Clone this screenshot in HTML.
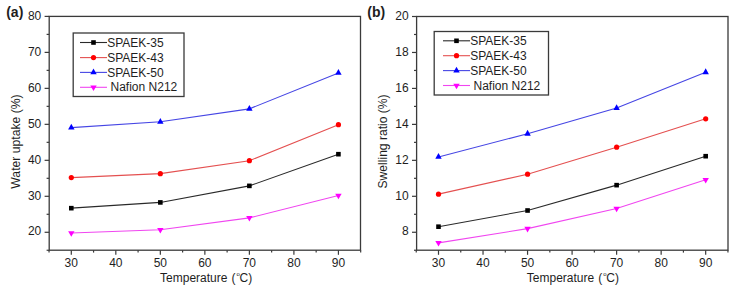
<!DOCTYPE html>
<html><head><meta charset="utf-8"><style>
html,body{margin:0;padding:0;background:#fff;}
body{width:734px;height:290px;overflow:hidden;}
svg{display:block;}
text{font-family:"Liberation Sans", sans-serif;fill:#1e1e1e;}
</style></head><body>
<svg width="734" height="290" viewBox="0 0 734 290">
<rect width="734" height="290" fill="#fff"/>
<line x1="44.60" y1="232.28" x2="49.20" y2="232.28" stroke="#3a3a3a" stroke-width="1.2"/>
<line x1="44.60" y1="196.30" x2="49.20" y2="196.30" stroke="#3a3a3a" stroke-width="1.2"/>
<line x1="44.60" y1="160.32" x2="49.20" y2="160.32" stroke="#3a3a3a" stroke-width="1.2"/>
<line x1="44.60" y1="124.34" x2="49.20" y2="124.34" stroke="#3a3a3a" stroke-width="1.2"/>
<line x1="44.60" y1="88.36" x2="49.20" y2="88.36" stroke="#3a3a3a" stroke-width="1.2"/>
<line x1="44.60" y1="52.38" x2="49.20" y2="52.38" stroke="#3a3a3a" stroke-width="1.2"/>
<line x1="44.60" y1="16.40" x2="49.20" y2="16.40" stroke="#3a3a3a" stroke-width="1.2"/>
<line x1="46.60" y1="250.27" x2="49.20" y2="250.27" stroke="#3a3a3a" stroke-width="1.2"/>
<line x1="46.60" y1="214.29" x2="49.20" y2="214.29" stroke="#3a3a3a" stroke-width="1.2"/>
<line x1="46.60" y1="178.31" x2="49.20" y2="178.31" stroke="#3a3a3a" stroke-width="1.2"/>
<line x1="46.60" y1="142.33" x2="49.20" y2="142.33" stroke="#3a3a3a" stroke-width="1.2"/>
<line x1="46.60" y1="106.35" x2="49.20" y2="106.35" stroke="#3a3a3a" stroke-width="1.2"/>
<line x1="46.60" y1="70.37" x2="49.20" y2="70.37" stroke="#3a3a3a" stroke-width="1.2"/>
<line x1="46.60" y1="34.39" x2="49.20" y2="34.39" stroke="#3a3a3a" stroke-width="1.2"/>
<line x1="71.30" y1="250.20" x2="71.30" y2="254.80" stroke="#3a3a3a" stroke-width="1.2"/>
<line x1="115.82" y1="250.20" x2="115.82" y2="254.80" stroke="#3a3a3a" stroke-width="1.2"/>
<line x1="160.34" y1="250.20" x2="160.34" y2="254.80" stroke="#3a3a3a" stroke-width="1.2"/>
<line x1="204.86" y1="250.20" x2="204.86" y2="254.80" stroke="#3a3a3a" stroke-width="1.2"/>
<line x1="249.38" y1="250.20" x2="249.38" y2="254.80" stroke="#3a3a3a" stroke-width="1.2"/>
<line x1="293.90" y1="250.20" x2="293.90" y2="254.80" stroke="#3a3a3a" stroke-width="1.2"/>
<line x1="338.42" y1="250.20" x2="338.42" y2="254.80" stroke="#3a3a3a" stroke-width="1.2"/>
<line x1="49.04" y1="250.20" x2="49.04" y2="252.60" stroke="#3a3a3a" stroke-width="1.2"/>
<line x1="93.56" y1="250.20" x2="93.56" y2="252.60" stroke="#3a3a3a" stroke-width="1.2"/>
<line x1="138.08" y1="250.20" x2="138.08" y2="252.60" stroke="#3a3a3a" stroke-width="1.2"/>
<line x1="182.60" y1="250.20" x2="182.60" y2="252.60" stroke="#3a3a3a" stroke-width="1.2"/>
<line x1="227.12" y1="250.20" x2="227.12" y2="252.60" stroke="#3a3a3a" stroke-width="1.2"/>
<line x1="271.64" y1="250.20" x2="271.64" y2="252.60" stroke="#3a3a3a" stroke-width="1.2"/>
<line x1="316.16" y1="250.20" x2="316.16" y2="252.60" stroke="#3a3a3a" stroke-width="1.2"/>
<line x1="360.68" y1="250.20" x2="360.68" y2="252.60" stroke="#3a3a3a" stroke-width="1.2"/>
<rect x="49.20" y="16.40" width="311.30" height="233.80" fill="none" stroke="#3a3a3a" stroke-width="1.3"/>
<text x="41.30" y="235.48" text-anchor="end" font-size="12">20</text>
<text x="41.30" y="199.50" text-anchor="end" font-size="12">30</text>
<text x="41.30" y="163.52" text-anchor="end" font-size="12">40</text>
<text x="41.30" y="127.54" text-anchor="end" font-size="12">50</text>
<text x="41.30" y="91.56" text-anchor="end" font-size="12">60</text>
<text x="41.30" y="55.58" text-anchor="end" font-size="12">70</text>
<text x="41.30" y="19.60" text-anchor="end" font-size="12">80</text>
<text x="71.30" y="267.2" text-anchor="middle" font-size="12">30</text>
<text x="115.82" y="267.2" text-anchor="middle" font-size="12">40</text>
<text x="160.34" y="267.2" text-anchor="middle" font-size="12">50</text>
<text x="204.86" y="267.2" text-anchor="middle" font-size="12">60</text>
<text x="249.38" y="267.2" text-anchor="middle" font-size="12">70</text>
<text x="293.90" y="267.2" text-anchor="middle" font-size="12">80</text>
<text x="338.42" y="267.2" text-anchor="middle" font-size="12">90</text>
<line x1="412.00" y1="232.26" x2="416.60" y2="232.26" stroke="#3a3a3a" stroke-width="1.2"/>
<line x1="412.00" y1="196.30" x2="416.60" y2="196.30" stroke="#3a3a3a" stroke-width="1.2"/>
<line x1="412.00" y1="160.34" x2="416.60" y2="160.34" stroke="#3a3a3a" stroke-width="1.2"/>
<line x1="412.00" y1="124.38" x2="416.60" y2="124.38" stroke="#3a3a3a" stroke-width="1.2"/>
<line x1="412.00" y1="88.42" x2="416.60" y2="88.42" stroke="#3a3a3a" stroke-width="1.2"/>
<line x1="412.00" y1="52.46" x2="416.60" y2="52.46" stroke="#3a3a3a" stroke-width="1.2"/>
<line x1="412.00" y1="16.50" x2="416.60" y2="16.50" stroke="#3a3a3a" stroke-width="1.2"/>
<line x1="414.00" y1="250.24" x2="416.60" y2="250.24" stroke="#3a3a3a" stroke-width="1.2"/>
<line x1="414.00" y1="214.28" x2="416.60" y2="214.28" stroke="#3a3a3a" stroke-width="1.2"/>
<line x1="414.00" y1="178.32" x2="416.60" y2="178.32" stroke="#3a3a3a" stroke-width="1.2"/>
<line x1="414.00" y1="142.36" x2="416.60" y2="142.36" stroke="#3a3a3a" stroke-width="1.2"/>
<line x1="414.00" y1="106.40" x2="416.60" y2="106.40" stroke="#3a3a3a" stroke-width="1.2"/>
<line x1="414.00" y1="70.44" x2="416.60" y2="70.44" stroke="#3a3a3a" stroke-width="1.2"/>
<line x1="414.00" y1="34.48" x2="416.60" y2="34.48" stroke="#3a3a3a" stroke-width="1.2"/>
<line x1="438.50" y1="250.20" x2="438.50" y2="254.80" stroke="#3a3a3a" stroke-width="1.2"/>
<line x1="483.03" y1="250.20" x2="483.03" y2="254.80" stroke="#3a3a3a" stroke-width="1.2"/>
<line x1="527.56" y1="250.20" x2="527.56" y2="254.80" stroke="#3a3a3a" stroke-width="1.2"/>
<line x1="572.09" y1="250.20" x2="572.09" y2="254.80" stroke="#3a3a3a" stroke-width="1.2"/>
<line x1="616.62" y1="250.20" x2="616.62" y2="254.80" stroke="#3a3a3a" stroke-width="1.2"/>
<line x1="661.15" y1="250.20" x2="661.15" y2="254.80" stroke="#3a3a3a" stroke-width="1.2"/>
<line x1="705.68" y1="250.20" x2="705.68" y2="254.80" stroke="#3a3a3a" stroke-width="1.2"/>
<line x1="416.24" y1="250.20" x2="416.24" y2="252.60" stroke="#3a3a3a" stroke-width="1.2"/>
<line x1="460.76" y1="250.20" x2="460.76" y2="252.60" stroke="#3a3a3a" stroke-width="1.2"/>
<line x1="505.30" y1="250.20" x2="505.30" y2="252.60" stroke="#3a3a3a" stroke-width="1.2"/>
<line x1="549.83" y1="250.20" x2="549.83" y2="252.60" stroke="#3a3a3a" stroke-width="1.2"/>
<line x1="594.36" y1="250.20" x2="594.36" y2="252.60" stroke="#3a3a3a" stroke-width="1.2"/>
<line x1="638.88" y1="250.20" x2="638.88" y2="252.60" stroke="#3a3a3a" stroke-width="1.2"/>
<line x1="683.41" y1="250.20" x2="683.41" y2="252.60" stroke="#3a3a3a" stroke-width="1.2"/>
<line x1="727.94" y1="250.20" x2="727.94" y2="252.60" stroke="#3a3a3a" stroke-width="1.2"/>
<rect x="416.60" y="16.50" width="311.40" height="233.70" fill="none" stroke="#3a3a3a" stroke-width="1.3"/>
<text x="408.70" y="235.46" text-anchor="end" font-size="12">8</text>
<text x="408.70" y="199.50" text-anchor="end" font-size="12">10</text>
<text x="408.70" y="163.54" text-anchor="end" font-size="12">12</text>
<text x="408.70" y="127.58" text-anchor="end" font-size="12">14</text>
<text x="408.70" y="91.62" text-anchor="end" font-size="12">16</text>
<text x="408.70" y="55.66" text-anchor="end" font-size="12">18</text>
<text x="408.70" y="19.70" text-anchor="end" font-size="12">20</text>
<text x="438.50" y="267.2" text-anchor="middle" font-size="12">30</text>
<text x="483.03" y="267.2" text-anchor="middle" font-size="12">40</text>
<text x="527.56" y="267.2" text-anchor="middle" font-size="12">50</text>
<text x="572.09" y="267.2" text-anchor="middle" font-size="12">60</text>
<text x="616.62" y="267.2" text-anchor="middle" font-size="12">70</text>
<text x="661.15" y="267.2" text-anchor="middle" font-size="12">80</text>
<text x="705.68" y="267.2" text-anchor="middle" font-size="12">90</text>
<polyline points="71.30,208.17 160.34,202.42 249.38,185.87 338.42,154.20" fill="none" stroke="#2a2a2a" stroke-width="1.1"/>
<rect x="69.00" y="205.87" width="4.60" height="4.60" fill="#000000"/>
<rect x="158.04" y="200.12" width="4.60" height="4.60" fill="#000000"/>
<rect x="247.08" y="183.57" width="4.60" height="4.60" fill="#000000"/>
<rect x="336.12" y="151.90" width="4.60" height="4.60" fill="#000000"/>
<polyline points="438.50,226.69 527.56,210.50 616.62,185.15 705.68,156.20" fill="none" stroke="#2a2a2a" stroke-width="1.1"/>
<rect x="436.20" y="224.39" width="4.60" height="4.60" fill="#000000"/>
<rect x="525.26" y="208.20" width="4.60" height="4.60" fill="#000000"/>
<rect x="614.32" y="182.85" width="4.60" height="4.60" fill="#000000"/>
<rect x="703.38" y="153.90" width="4.60" height="4.60" fill="#000000"/>
<polyline points="71.30,177.59 160.34,173.63 249.38,160.68 338.42,124.70" fill="none" stroke="#e45050" stroke-width="1.1"/>
<circle cx="71.30" cy="177.59" r="2.6" fill="#ff0000"/>
<circle cx="160.34" cy="173.63" r="2.6" fill="#ff0000"/>
<circle cx="249.38" cy="160.68" r="2.6" fill="#ff0000"/>
<circle cx="338.42" cy="124.70" r="2.6" fill="#ff0000"/>
<polyline points="438.50,194.14 527.56,174.18 616.62,147.21 705.68,118.81" fill="none" stroke="#e45050" stroke-width="1.1"/>
<circle cx="438.50" cy="194.14" r="2.6" fill="#ff0000"/>
<circle cx="527.56" cy="174.18" r="2.6" fill="#ff0000"/>
<circle cx="616.62" cy="147.21" r="2.6" fill="#ff0000"/>
<circle cx="705.68" cy="118.81" r="2.6" fill="#ff0000"/>
<polyline points="71.30,127.58 160.34,121.82 249.38,108.87 338.42,72.89" fill="none" stroke="#4646e4" stroke-width="1.1"/>
<polygon points="71.30,123.71 68.10,129.51 74.50,129.51" fill="#0000ff"/>
<polygon points="160.34,117.95 157.14,123.75 163.54,123.75" fill="#0000ff"/>
<polygon points="249.38,105.00 246.18,110.80 252.58,110.80" fill="#0000ff"/>
<polygon points="338.42,69.02 335.22,74.82 341.62,74.82" fill="#0000ff"/>
<polyline points="438.50,156.92 527.56,133.73 616.62,108.02 705.68,72.24" fill="none" stroke="#4646e4" stroke-width="1.1"/>
<polygon points="438.50,153.06 435.30,158.86 441.70,158.86" fill="#0000ff"/>
<polygon points="527.56,129.86 524.36,135.66 530.76,135.66" fill="#0000ff"/>
<polygon points="616.62,104.15 613.42,109.95 619.82,109.95" fill="#0000ff"/>
<polygon points="705.68,68.37 702.48,74.17 708.88,74.17" fill="#0000ff"/>
<polyline points="71.30,233.00 160.34,229.76 249.38,217.89 338.42,195.58" fill="none" stroke="#f046f0" stroke-width="1.1"/>
<polygon points="68.10,231.13 74.50,231.13 71.30,236.73" fill="#ff00ff"/>
<polygon points="157.14,227.89 163.54,227.89 160.34,233.49" fill="#ff00ff"/>
<polygon points="246.18,216.02 252.58,216.02 249.38,221.62" fill="#ff00ff"/>
<polygon points="335.22,193.71 341.62,193.71 338.42,199.31" fill="#ff00ff"/>
<polyline points="438.50,242.87 527.56,228.66 616.62,208.53 705.68,179.76" fill="none" stroke="#f046f0" stroke-width="1.1"/>
<polygon points="435.30,241.00 441.70,241.00 438.50,246.60" fill="#ff00ff"/>
<polygon points="524.36,226.80 530.76,226.80 527.56,232.40" fill="#ff00ff"/>
<polygon points="613.42,206.66 619.82,206.66 616.62,212.26" fill="#ff00ff"/>
<polygon points="702.48,177.89 708.88,177.89 705.68,183.49" fill="#ff00ff"/>
<rect x="73.20" y="33.00" width="110.80" height="63.50" fill="#fff" stroke="#3a3a3a" stroke-width="1.3"/>
<line x1="80.00" y1="42.50" x2="107.00" y2="42.50" stroke="#2a2a2a" stroke-width="1.1"/>
<rect x="91.20" y="40.20" width="4.60" height="4.60" fill="#000000"/>
<text x="107.20" y="46.60" font-size="12">SPAEK-35</text>
<line x1="80.00" y1="57.60" x2="107.00" y2="57.60" stroke="#e45050" stroke-width="1.1"/>
<circle cx="93.50" cy="57.60" r="2.6" fill="#ff0000"/>
<text x="107.20" y="61.70" font-size="12">SPAEK-43</text>
<line x1="80.00" y1="72.40" x2="107.00" y2="72.40" stroke="#4646e4" stroke-width="1.1"/>
<polygon points="93.50,68.53 90.30,74.33 96.70,74.33" fill="#0000ff"/>
<text x="107.20" y="76.50" font-size="12">SPAEK-50</text>
<line x1="80.00" y1="87.30" x2="107.00" y2="87.30" stroke="#f046f0" stroke-width="1.1"/>
<polygon points="90.30,85.43 96.70,85.43 93.50,91.03" fill="#ff00ff"/>
<text x="107.20" y="91.40" font-size="12"> Nafion N212</text>
<rect x="434.20" y="31.50" width="114.30" height="63.50" fill="#fff" stroke="#3a3a3a" stroke-width="1.3"/>
<line x1="443.00" y1="40.80" x2="470.00" y2="40.80" stroke="#2a2a2a" stroke-width="1.1"/>
<rect x="454.20" y="38.50" width="4.60" height="4.60" fill="#000000"/>
<text x="470.20" y="44.90" font-size="12">SPAEK-35</text>
<line x1="443.00" y1="55.70" x2="470.00" y2="55.70" stroke="#e45050" stroke-width="1.1"/>
<circle cx="456.50" cy="55.70" r="2.6" fill="#ff0000"/>
<text x="470.20" y="59.80" font-size="12">SPAEK-43</text>
<line x1="443.00" y1="70.60" x2="470.00" y2="70.60" stroke="#4646e4" stroke-width="1.1"/>
<polygon points="456.50,66.73 453.30,72.53 459.70,72.53" fill="#0000ff"/>
<text x="470.20" y="74.70" font-size="12">SPAEK-50</text>
<line x1="443.00" y1="85.50" x2="470.00" y2="85.50" stroke="#f046f0" stroke-width="1.1"/>
<polygon points="453.30,83.63 459.70,83.63 456.50,89.23" fill="#ff00ff"/>
<text x="470.20" y="89.60" font-size="12"> Nafion N212</text>
<text x="6.2" y="17.4" font-size="14" font-weight="bold" fill="#000">(a)</text>
<text x="367.3" y="17.4" font-size="14" font-weight="bold" fill="#000">(b)</text>
<text transform="translate(19.6,141.5) rotate(-90)" text-anchor="middle" font-size="12.2">Water uptake (%)</text>
<text transform="translate(386.8,141.4) rotate(-90)" text-anchor="middle" font-size="12.1">Swelling ratio (%)</text>
<text x="206.10" y="282.3" text-anchor="middle" font-size="12">Temperature <tspan dx="0.8">(</tspan><tspan font-size="6" dx="0.9" dy="-6.3">o</tspan><tspan dx="-0.3" dy="6.3">C)</tspan></text>
<text x="572.90" y="282.3" text-anchor="middle" font-size="12">Temperature <tspan dx="0.8">(</tspan><tspan font-size="6" dx="0.9" dy="-6.3">o</tspan><tspan dx="-0.3" dy="6.3">C)</tspan></text>
</svg>
</body></html>
